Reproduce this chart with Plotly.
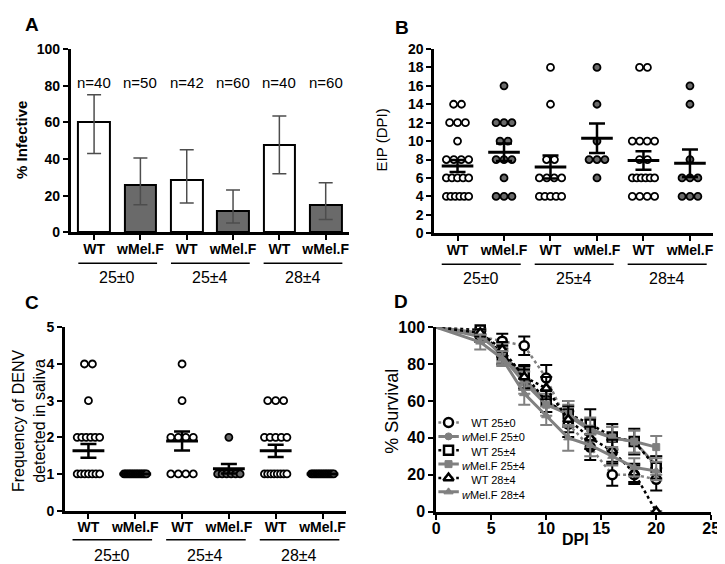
import numpy as np
import plotly.graph_objects as go
from collections import Counter

W, H = 725, 564
FONT = "Arial, 'Liberation Sans', sans-serif"
GRAY = "#6a6a6a"
LGRAY = "#808080"

# ---------------- data ----------------
categories = ["WT", "wMel.F", "WT", "wMel.F", "WT", "wMel.F"]
groups = ["25±0", "25±4", "28±4"]
is_wmel = [False, True, False, True, False, True]

# Panel A: % infective with 95% CI
n_labels = ["n=40", "n=50", "n=42", "n=60", "n=40", "n=60"]
infective_pct = [60, 26, 28.5, 11.5, 47.5, 15]
infective_lo = [43, 15, 16, 5, 32, 7]
infective_hi = [75, 40.5, 45, 23, 63.5, 27]

# Panel B: EIP (DPI) individual values
eip_wt_25_0 = [14, 14, 12, 12, 12, 10, 8, 8, 8, 8, 6, 6, 6, 6, 6, 4, 4, 4, 4, 4, 4]
eip_wmel_25_0 = [16, 12, 12, 12, 10, 10, 8, 8, 8, 6, 4, 4, 4]
eip_wt_25_4 = [18, 14, 8, 8, 6, 6, 6, 6, 4, 4, 4, 4, 4]
eip_wmel_25_4 = [18, 14, 10, 8, 8, 8, 6]
eip_wt_28_4 = [18, 18, 10, 10, 10, 10, 8, 8, 6, 6, 6, 6, 6, 6, 4, 4, 4, 4]
eip_wmel_28_4 = [16, 14, 8, 6, 6, 6, 4, 4, 4]
eip_mean = [7.3, 8.8, 7.2, 10.3, 7.9, 7.6]
eip_sem = [0.65, 0.95, 1.25, 1.6, 1.0, 1.5]

# Panel C: frequency of DENV detected in saliva
freq_wt_25_0 = [4, 4, 3, 2, 2, 2, 2, 2, 2, 1, 1, 1, 1, 1, 1, 1]
freq_wmel_25_0 = [1] * 14
freq_wt_25_4 = [4, 3, 2, 2, 2, 2, 1, 1, 1, 1]
freq_wmel_25_4 = [2, 1, 1, 1, 1, 1, 1]
freq_wt_28_4 = [3, 3, 3, 2, 2, 2, 2, 2, 1, 1, 1, 1, 1, 1, 1, 1]
freq_wmel_28_4 = [1] * 14
freq_mean = [1.63, 1.0, 1.9, 1.14, 1.63, 1.0]
freq_sem = [0.19, 0.0, 0.26, 0.13, 0.17, 0.0]

# Panel D: % survival
dpi = [0, 4, 6, 8, 10, 12, 14, 16, 18, 20]
surv_wt_25_0 = [100, 95, 92.5, 90, 72.5, 47.5, 35, 20, 20, 17.5]
surv_wt_25_0_err = [0, 3, 4, 5, 7, 7, 7, 6, 5, 6]
surv_wmel_25_0 = [100, 95, 86, 72, 60, 52, 44, 40, 38, 25]
surv_wmel_25_0_err = [0, 3, 5, 6, 6, 6, 6, 6, 6, 5]
surv_wt_25_4 = [100, 98.5, 85, 74.5, 60, 53, 47.5, 40.5, 38, 24]
surv_wt_25_4_err = [0, 2, 5, 5, 6, 7, 8, 7, 7, 6]
surv_wmel_25_4 = [100, 97, 84, 70, 58, 53, 45, 40, 38, 35]
surv_wmel_25_4_err = [0, 2, 4, 6, 6, 7, 6, 6, 6, 6]
surv_wt_28_4 = [100, 97, 88, 73, 67, 50, 40, 33, 21, 0]
surv_wt_28_4_err = [0, 2, 4, 6, 6, 7, 6, 6, 5, 0]
surv_wmel_28_4 = [100, 92, 83, 64, 52, 40, 36, 30, 24, 22]
surv_wmel_28_4_err = [0, 4, 4, 6, 5, 7, 6, 5, 5, 5]
legend_names = ["WT 25±0", "<i>w</i>Mel.F 25±0", "WT 25±4",
                "<i>w</i>Mel.F 25±4", "WT 28±4", "<i>w</i>Mel.F 28±4"]

# ---------------- helpers ----------------
def px(x):
    return x / W

def py(y):
    return 1 - y / H

def swarm(values, center, step=0.17, max_span=0.48):
    xs, ys = [], []
    for v, k in Counter(values).items():
        s = step if k <= 1 else min(step, max_span / (k - 1))
        offs = (np.arange(k) - (k - 1) / 2) * s
        xs.extend(list(center + offs))
        ys.extend([v] * k)
    return xs, ys

fig = go.Figure()
cat_idx = list(range(len(categories)))

def tfont(size, bold=True):
    d = dict(family=FONT, size=size, color="black")
    if bold:
        d["weight"] = "bold"
    return d

axis_common = dict(showline=True, linecolor="black", linewidth=3, ticks="outside",
                   ticklen=5, tickwidth=2, tickcolor="black", showgrid=False,
                   zeroline=False, fixedrange=True, tickfont=tfont(14))

# ---------------- Panel A ----------------
wt_i = [i for i in cat_idx if not is_wmel[i]]
wm_i = [i for i in cat_idx if is_wmel[i]]
for idx_list, fill in ((wt_i, "white"), (wm_i, GRAY)):
    vals = [infective_pct[i] for i in idx_list]
    fig.add_trace(go.Bar(
        x=idx_list, y=vals, width=0.68, xaxis="x", yaxis="y",
        marker=dict(color=fill, line=dict(color="black", width=2)),
        error_y=dict(type="data", symmetric=False,
                     array=[infective_hi[i] - infective_pct[i] for i in idx_list],
                     arrayminus=[infective_pct[i] - infective_lo[i] for i in idx_list],
                     color="#4d4d4d", thickness=1.5, width=7)))

# ---------------- Panel B & C (scatter + mean/SEM) ----------------
def dot_panel(series, means, sems, xa, ya):
    for i, vals in enumerate(series):
        xs, ys = swarm(vals, i)
        fig.add_trace(go.Scatter(
            x=xs, y=ys, mode="markers", xaxis=xa, yaxis=ya, cliponaxis=False,
            marker=dict(size=7, symbol="circle",
                        color=GRAY if is_wmel[i] else "white",
                        line=dict(color="black", width=1.8))))
    mx, my = [], []
    for i, m in enumerate(means):
        mx += [i - 0.34, i + 0.34, None]
        my += [m, m, None]
    fig.add_trace(go.Scatter(x=mx, y=my, mode="lines", xaxis=xa, yaxis=ya,
                             line=dict(color="black", width=3)))
    fig.add_trace(go.Scatter(
        x=cat_idx, y=means, mode="markers", xaxis=xa, yaxis=ya,
        marker=dict(size=1, opacity=0),
        error_y=dict(type="data", array=sems, color="black", thickness=2.5, width=8)))

dot_panel([eip_wt_25_0, eip_wmel_25_0, eip_wt_25_4, eip_wmel_25_4, eip_wt_28_4, eip_wmel_28_4],
          eip_mean, eip_sem, "x2", "y2")
dot_panel([freq_wt_25_0, freq_wmel_25_0, freq_wt_25_4, freq_wmel_25_4, freq_wt_28_4, freq_wmel_28_4],
          freq_mean, freq_sem, "x3", "y3")

# ---------------- Panel D ----------------
surv_series = [
    (surv_wt_25_0, surv_wt_25_0_err, dict(color=LGRAY, width=2.5, dash="dot"),
     dict(symbol="circle", size=9, color="white", line=dict(color="black", width=2.5)), "black"),
    (surv_wmel_25_0, surv_wmel_25_0_err, dict(color=LGRAY, width=3),
     dict(symbol="circle", size=7, color=LGRAY, line=dict(color=LGRAY, width=1)), LGRAY),
    (surv_wt_25_4, surv_wt_25_4_err, dict(color="black", width=2.5, dash="dot"),
     dict(symbol="square", size=9, color="white", line=dict(color="black", width=2.5)), "black"),
    (surv_wmel_25_4, surv_wmel_25_4_err, dict(color=LGRAY, width=3),
     dict(symbol="square", size=7, color=LGRAY, line=dict(color=LGRAY, width=1)), LGRAY),
    (surv_wt_28_4, surv_wt_28_4_err, dict(color="black", width=2.5, dash="dot"),
     dict(symbol="triangle-up", size=9, color="white", line=dict(color="black", width=2.5)), "black"),
    (surv_wmel_28_4, surv_wmel_28_4_err, dict(color=LGRAY, width=3),
     dict(symbol="triangle-up", size=8, color=LGRAY, line=dict(color=LGRAY, width=1)), LGRAY),
]
for vals, errs, line, marker, ecol in surv_series:
    mk = dict(marker)
    mk["opacity"] = [0] + [1] * (len(vals) - 1)
    fig.add_trace(go.Scatter(
        x=dpi, y=vals, mode="lines+markers", xaxis="x4", yaxis="y4", cliponaxis=False,
        line=line, marker=mk,
        error_y=dict(type="data", array=errs, color=ecol, thickness=2, width=6)))

# manual compact legend (own hidden axis)
for r, (vals, errs, line, marker, ecol) in enumerate(surv_series):
    yrow = len(surv_series) - 1 - r
    fig.add_trace(go.Scatter(x=[0, 21], y=[yrow, yrow], mode="lines", xaxis="x5", yaxis="y5",
                             line=line, cliponaxis=False))
    fig.add_trace(go.Scatter(x=[10.5], y=[yrow], mode="markers", xaxis="x5", yaxis="y5",
                             marker=marker, cliponaxis=False))

# ---------------- layout ----------------
def cat_xaxis(domain, anchor):
    d = dict(axis_common)
    d.update(domain=domain, anchor=anchor, range=[-0.5, 5.5], tickmode="array",
             tickvals=cat_idx, ticktext=categories, ticklabelstandoff=-3)
    return d

def num_yaxis(domain, anchor, rng, dtick, size=14):
    d = dict(axis_common)
    d.update(domain=domain, anchor=anchor, range=rng, dtick=dtick, tick0=0,
             tickfont=tfont(size))
    return d

dom_A = ([px(60), px(343)], [py(223), py(34)])
dom_B = ([px(430), px(714)], [py(224), py(34)])
dom_C = ([px(54), px(340)], [py(510), py(321)])
dom_D = ([px(432), px(712)], [py(511), py(321)])

xD = dict(axis_common)
xD.update(domain=dom_D[0], anchor="y4", range=[0, 25], dtick=5, tick0=0,
          tickfont=tfont(16), ticklabelstandoff=-5)

leg_rows = len(legend_names)
leg_step = 14.3
leg_top = 412

fig.update_layout(
    width=W, height=H, margin=dict(l=0, r=0, t=0, b=0),
    paper_bgcolor="white", plot_bgcolor="white", showlegend=False,
    font=dict(family=FONT, color="black"),
    bargap=0,
    xaxis=cat_xaxis(dom_A[0], "y"),
    yaxis=num_yaxis(dom_A[1], "x", [0, 100], 20),
    xaxis2=cat_xaxis(dom_B[0], "y2"),
    yaxis2=num_yaxis(dom_B[1], "x2", [0, 20], 2),
    xaxis3=cat_xaxis(dom_C[0], "y3"),
    yaxis3=num_yaxis(dom_C[1], "x3", [0, 5], 1),
    xaxis4=xD,
    yaxis4=num_yaxis(dom_D[1], "x4", [0, 100], 20, size=16),
    xaxis5=dict(domain=[px(434), px(520)], anchor="y5", range=[0, 86], visible=False, fixedrange=True),
    yaxis5=dict(domain=[py(leg_top + leg_rows * leg_step), py(leg_top)], anchor="x5",
                range=[-0.5, leg_rows - 0.5], visible=False, fixedrange=True),
)

annotations = []
shapes = []

# group lines + labels under categorical panels
for xa, yline, ylab in (("x", 255, 270), ("x2", 256, 271), ("x3", 540, 556)):
    for g, name in enumerate(groups):
        c0, c1 = 2 * g, 2 * g + 1
        shapes.append(dict(type="line", xref=xa, yref="paper", x0=c0 - 0.34, x1=c1 + 0.36,
                           y0=py(yline), y1=py(yline), line=dict(color="black", width=1.5)))
        annotations.append(dict(xref=xa, yref="paper", x=(c0 + c1) / 2, y=py(ylab),
                                text=name, showarrow=False, xanchor="center", yanchor="middle",
                                font=tfont(16, bold=False)))

# n labels in A
for i, t in enumerate(n_labels):
    annotations.append(dict(xref="x", yref="y", x=i, y=81.5, text=t, showarrow=False,
                            xanchor="center", yanchor="middle", font=tfont(15, bold=False)))

# panel letters
for letter, x, y in (("A", 20, 9), ("B", 397, 12), ("C", 20, 295), ("D", 396, 294)):
    annotations.append(dict(xref="paper", yref="paper", x=px(x), y=py(y), text=letter,
                            showarrow=False, xanchor="center", yanchor="middle", font=tfont(19)))

# axis titles
annotations += [
    dict(xref="paper", yref="paper", x=px(9), y=py(128), text="% Infective", textangle=-90,
         showarrow=False, xanchor="center", yanchor="middle", font=tfont(15)),
    dict(xref="paper", yref="paper", x=px(376), y=py(128), text="EIP (DPI)", textangle=-90,
         showarrow=False, xanchor="center", yanchor="middle", font=tfont(15, bold=False)),
    dict(xref="paper", yref="paper", x=px(18), y=py(417), text="Frequency of DENV<br>detected in saliva",
         textangle=-90, showarrow=False, xanchor="center", yanchor="middle", font=tfont(16, bold=False)),
    dict(xref="paper", yref="paper", x=px(387), y=py(408), text="% Survival", textangle=-90,
         showarrow=False, xanchor="center", yanchor="middle", font=tfont(18, bold=False)),
    dict(xref="paper", yref="paper", x=px(574), y=py(540), text="DPI", showarrow=False,
         xanchor="center", yanchor="middle", font=tfont(16)),
]

# legend texts as one multi-line block (line pitch 1.3 * 11 = 14.3 px)
annotations.append(dict(xref="x5", yref="paper", x=56, y=py(leg_top), text="<br>".join(legend_names),
                        showarrow=False, xanchor="center", yanchor="top", align="center",
                        borderpad=0, font=tfont(11, bold=False)))

fig.update_layout(annotations=annotations, shapes=shapes)
fig.write_html("out.html")
